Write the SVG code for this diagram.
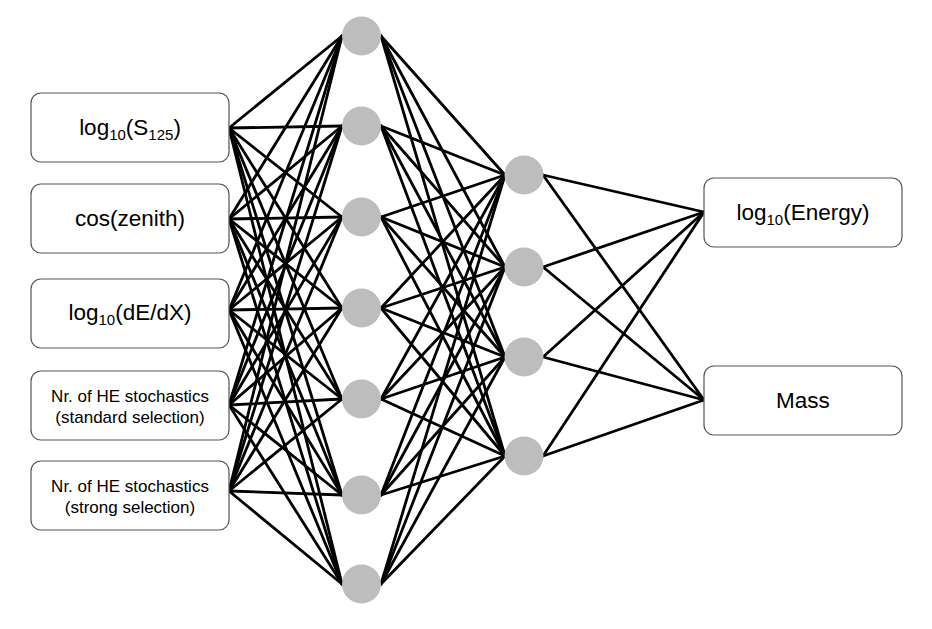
<svg xmlns="http://www.w3.org/2000/svg" width="932" height="629" viewBox="0 0 932 629">
<style>
.box{fill:#fff;stroke:#555;stroke-width:1.2}
.n{fill:#bdbdbd}
.c line{stroke:#000;stroke-width:2.8;stroke-linecap:round}
.t{font-family:"Liberation Sans",Arial,sans-serif;fill:#000;text-anchor:middle}
.big{font-size:22.5px}
.sm{font-size:17px}
.sub{font-size:15px}
</style>
<rect width="932" height="629" fill="#fff"/>
<g class="c" id="connectors">
<line x1="229" y1="128" x2="342" y2="36"/><line x1="229" y1="128" x2="342" y2="126"/><line x1="229" y1="128" x2="342" y2="217"/><line x1="229" y1="128" x2="342" y2="308"/><line x1="229" y1="128" x2="342" y2="399"/><line x1="229" y1="128" x2="342" y2="495"/><line x1="229" y1="128" x2="342" y2="584"/>
<line x1="229" y1="219" x2="342" y2="36"/><line x1="229" y1="219" x2="342" y2="126"/><line x1="229" y1="219" x2="342" y2="217"/><line x1="229" y1="219" x2="342" y2="308"/><line x1="229" y1="219" x2="342" y2="399"/><line x1="229" y1="219" x2="342" y2="495"/><line x1="229" y1="219" x2="342" y2="584"/>
<line x1="229" y1="310" x2="342" y2="36"/><line x1="229" y1="310" x2="342" y2="126"/><line x1="229" y1="310" x2="342" y2="217"/><line x1="229" y1="310" x2="342" y2="308"/><line x1="229" y1="310" x2="342" y2="399"/><line x1="229" y1="310" x2="342" y2="495"/><line x1="229" y1="310" x2="342" y2="584"/>
<line x1="229" y1="405" x2="342" y2="36"/><line x1="229" y1="405" x2="342" y2="126"/><line x1="229" y1="405" x2="342" y2="217"/><line x1="229" y1="405" x2="342" y2="308"/><line x1="229" y1="405" x2="342" y2="399"/><line x1="229" y1="405" x2="342" y2="495"/><line x1="229" y1="405" x2="342" y2="584"/>
<line x1="229" y1="491" x2="342" y2="36"/><line x1="229" y1="491" x2="342" y2="126"/><line x1="229" y1="491" x2="342" y2="217"/><line x1="229" y1="491" x2="342" y2="308"/><line x1="229" y1="491" x2="342" y2="399"/><line x1="229" y1="491" x2="342" y2="495"/><line x1="229" y1="491" x2="342" y2="584"/>
<line x1="381" y1="36" x2="505" y2="175"/><line x1="381" y1="36" x2="505" y2="267"/><line x1="381" y1="36" x2="505" y2="357"/><line x1="381" y1="36" x2="505" y2="456"/>
<line x1="381" y1="126" x2="505" y2="175"/><line x1="381" y1="126" x2="505" y2="267"/><line x1="381" y1="126" x2="505" y2="357"/><line x1="381" y1="126" x2="505" y2="456"/>
<line x1="381" y1="217" x2="505" y2="175"/><line x1="381" y1="217" x2="505" y2="267"/><line x1="381" y1="217" x2="505" y2="357"/><line x1="381" y1="217" x2="505" y2="456"/>
<line x1="381" y1="308" x2="505" y2="175"/><line x1="381" y1="308" x2="505" y2="267"/><line x1="381" y1="308" x2="505" y2="357"/><line x1="381" y1="308" x2="505" y2="456"/>
<line x1="381" y1="399" x2="505" y2="175"/><line x1="381" y1="399" x2="505" y2="267"/><line x1="381" y1="399" x2="505" y2="357"/><line x1="381" y1="399" x2="505" y2="456"/>
<line x1="381" y1="495" x2="505" y2="175"/><line x1="381" y1="495" x2="505" y2="267"/><line x1="381" y1="495" x2="505" y2="357"/><line x1="381" y1="495" x2="505" y2="456"/>
<line x1="381" y1="584" x2="505" y2="175"/><line x1="381" y1="584" x2="505" y2="267"/><line x1="381" y1="584" x2="505" y2="357"/><line x1="381" y1="584" x2="505" y2="456"/>
<line x1="543" y1="175" x2="704" y2="212"/><line x1="543" y1="175" x2="704" y2="400"/>
<line x1="543" y1="267" x2="704" y2="212"/><line x1="543" y1="267" x2="704" y2="400"/>
<line x1="543" y1="357" x2="704" y2="212"/><line x1="543" y1="357" x2="704" y2="400"/>
<line x1="543" y1="456" x2="704" y2="212"/><line x1="543" y1="456" x2="704" y2="400"/>
</g>
<g id="in1"><rect class="box" x="31" y="93" width="198" height="69" rx="10"/><text class="t big" x="130" y="135">log<tspan class="sub" dy="5">10</tspan><tspan dy="-5">(S</tspan><tspan class="sub" dy="5">125</tspan><tspan dy="-5">)</tspan></text></g>
<g id="in2"><rect class="box" x="31" y="184" width="198" height="69" rx="10"/><text class="t big" x="130" y="226">cos(zenith)</text></g>
<g id="in3"><rect class="box" x="31" y="279" width="198" height="69" rx="10"/><text class="t big" x="130" y="320">log<tspan class="sub" dy="5">10</tspan><tspan dy="-5">(dE/dX)</tspan></text></g>
<g id="in4"><rect class="box" x="31" y="371" width="198" height="69" rx="10"/><text class="t sm" x="130" y="402">Nr. of HE stochastics</text><text class="t sm" x="130" y="423">(standard selection)</text></g>
<g id="in5"><rect class="box" x="31" y="461" width="198" height="69" rx="10"/><text class="t sm" x="130" y="492">Nr. of HE stochastics</text><text class="t sm" x="130" y="513">(strong selection)</text></g>
<g id="h1"><circle class="n" cx="361.5" cy="36" r="19.5"/></g>
<g id="h2"><circle class="n" cx="361.5" cy="126" r="19.5"/></g>
<g id="h3"><circle class="n" cx="361.5" cy="217" r="19.5"/></g>
<g id="h4"><circle class="n" cx="361.5" cy="308" r="19.5"/></g>
<g id="h5"><circle class="n" cx="361.5" cy="399" r="19.5"/></g>
<g id="h6"><circle class="n" cx="361.5" cy="495" r="19.5"/></g>
<g id="h7"><circle class="n" cx="361.5" cy="584" r="19.5"/></g>
<g id="g1"><circle class="n" cx="524" cy="175" r="19.5"/></g>
<g id="g2"><circle class="n" cx="524" cy="267" r="19.5"/></g>
<g id="g3"><circle class="n" cx="524" cy="357" r="19.5"/></g>
<g id="g4"><circle class="n" cx="524" cy="456" r="19.5"/></g>
<g id="out1"><rect class="box" x="704" y="178" width="198" height="69" rx="10"/><text class="t big" x="803" y="220">log<tspan class="sub" dy="5">10</tspan><tspan dy="-5">(Energy)</tspan></text></g>
<g id="out2"><rect class="box" x="704" y="366" width="198" height="69" rx="10"/><text class="t big" x="803" y="408">Mass</text></g>
</svg>
